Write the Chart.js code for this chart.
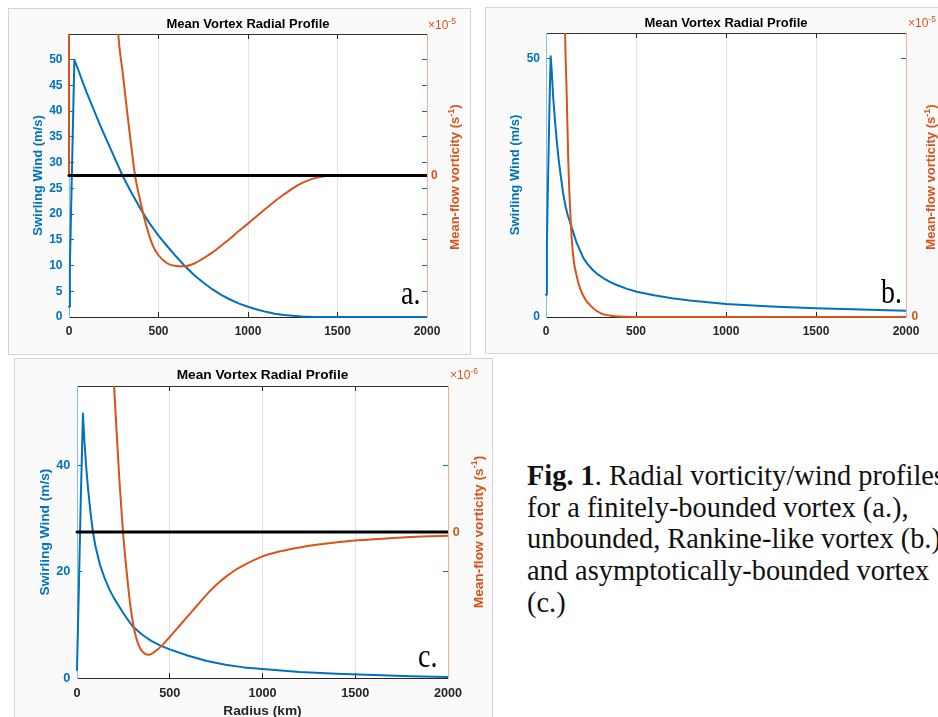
<!DOCTYPE html>
<html><head><meta charset="utf-8">
<script src="https://cdn.jsdelivr.net/npm/chart.js@4.4.1/dist/chart.umd.min.js"></script>
<style>
html,body{margin:0;padding:0;background:#fff;}
body{width:938px;height:717px;overflow:hidden;position:relative;font-family:'Liberation Sans',Arial,Helvetica,sans-serif;}
.box{position:absolute;box-sizing:border-box;border:1px solid #d4d4d4;background:#fafafa;}
canvas{position:absolute;}
.rt{position:absolute;transform:translate(-50%,-50%) rotate(-90deg);white-space:nowrap;font-weight:bold;font-size:13px;line-height:14px;color:#D95319;}
.rt sup{font-size:9px;line-height:0;}
.exp{position:absolute;white-space:nowrap;font-size:12px;color:#D95319;line-height:12px;}
.exp sup{font-size:8.5px;line-height:0;vertical-align:5px;}
.lab{position:absolute;font-family:'Liberation Serif','Times New Roman',serif;font-size:28px;line-height:28px;color:#000;white-space:nowrap;transform:scaleY(1.2);transform-origin:0 23.5px;}
.cap{position:absolute;left:527px;top:460px;font-family:'Liberation Serif','Times New Roman',serif;font-size:28.4px;line-height:31.7px;white-space:nowrap;color:#111;}
</style></head>
<body>
<div class="box" style="left:8px;top:8px;width:463px;height:347px"></div>
<div class="box" style="left:485px;top:7px;width:470px;height:347px"></div>
<div class="box" style="left:14px;top:358px;width:479px;height:380px"></div>
<canvas id="cA" width="463" height="347" style="left:8px;top:8px"></canvas>
<canvas id="cB" width="463" height="347" style="left:485px;top:7px"></canvas>
<canvas id="cC" width="479" height="372" style="left:14px;top:358px"></canvas>

<div class="rt" style="left:455px;top:177px">Mean-flow vorticity (s<sup>-1</sup>)</div>
<div class="rt" style="left:931px;top:177px">Mean-flow vorticity (s<sup>-1</sup>)</div>
<div class="rt" style="left:479px;top:532px;font-size:13.7px">Mean-flow vorticity (s<sup>-1</sup>)</div>

<div class="exp" style="left:428px;top:19px">×10<sup>-5</sup></div>
<div class="exp" style="left:908px;top:17px">×10<sup>-5</sup></div>
<div class="exp" style="left:450px;top:369px">×10<sup>-6</sup></div>

<div class="lab" style="left:401px;top:281px">a.</div>
<div class="lab" style="left:881px;top:280px">b.</div>
<div class="lab" style="left:418px;top:644px">c.</div>

<div class="cap"><b>Fig. 1</b>. Radial vorticity/wind profiles<br>for a finitely-bounded vortex (a.),<br>unbounded, Rankine-like vortex (b.),<br>and asymptotically-bounded vortex<br>(c.)</div>

<script>
// ---------- DATA ----------
const xTicks = [0, 500, 1000, 1500, 2000];
const windTicksA = [0, 5, 10, 15, 20, 25, 30, 35, 40, 45, 50];
const windTicksB = [0, 50];
const windTicksC = [0, 20, 40];
const vortTickLabels = [0];
const zeroLineR = [0, 2000];
const zeroLineV = [0, 0];

// Panel a: finitely-bounded vortex (vorticity in 1e-5 s^-1)
const radiusWindA = [0, 5, 10, 15, 20, 25, 30, 50, 75, 100, 125, 150, 175, 200, 250, 300, 350, 400, 450, 500, 550, 600, 650, 700, 750, 800, 850, 900, 950, 1000, 1050, 1100, 1150, 1200, 1250, 1300, 1350, 1400, 1450, 1500, 1750, 2000];
const windA = [2, 10, 18, 26, 34, 42, 50, 48.2, 45.8, 43.5, 41.4, 39.3, 37.2, 35.2, 31.3, 27.4, 24.1, 21.0, 18.2, 15.8, 13.7, 11.7, 9.8, 8.1, 6.7, 5.4, 4.3, 3.4, 2.6, 2.0, 1.45, 1.0, 0.65, 0.4, 0.23, 0.12, 0.05, 0.02, 0.005, 0, 0, 0];
const radiusVortA = [0, 2, 260, 275, 300, 322, 345, 369, 392, 415, 440, 470, 500, 550, 600, 640, 700, 750, 800, 850, 900, 950, 1000, 1050, 1100, 1150, 1200, 1250, 1300, 1350, 1400, 1450, 1500, 2000];
const vortA = [0, 60, 7.5, 5.5, 4.0, 2.65, 1.3, 0, -0.8, -1.5, -2.15, -2.75, -3.1, -3.42, -3.52, -3.53, -3.42, -3.22, -3.0, -2.73, -2.45, -2.15, -1.87, -1.57, -1.28, -1.0, -0.74, -0.5, -0.3, -0.15, -0.06, -0.01, 0, 0];

// Panel b: unbounded, Rankine-like vortex (vorticity in 1e-5 s^-1)
const radiusWindB = [0, 5, 10, 15, 20, 26, 32, 40, 50, 60, 70, 80, 96, 110, 120, 138, 155, 170, 190, 208, 230, 260, 290, 320, 360, 400, 450, 505, 600, 700, 800, 900, 1000, 1250, 1500, 1750, 2000];
const windB = [4.3, 14, 24, 33, 42, 50.5, 47.5, 42.5, 38, 34, 30.6, 27.8, 23.8, 21.2, 19.8, 17.9, 16.0, 14.4, 12.8, 11.4, 10.3, 9.1, 8.2, 7.5, 6.7, 6.1, 5.45, 4.9, 4.2, 3.65, 3.2, 2.85, 2.5, 2.05, 1.7, 1.45, 1.2];
const radiusVortB = [90, 100, 106, 115, 124, 138, 152, 170, 189, 215, 245, 280, 320, 370, 450, 550, 2000];
const vortB = [9, 7, 5.5, 4.3, 3.0, 1.8, 1.15, 0.8, 0.56, 0.36, 0.23, 0.12, 0.05, 0.02, 0.005, 0, 0];

// Panel c: asymptotically-bounded vortex (vorticity in 1e-6 s^-1)
const radiusWindC = [0, 10, 20, 32, 40, 50, 60, 75, 86, 100, 125, 150, 176, 200, 250, 298, 350, 400, 450, 500, 600, 700, 800, 900, 1000, 1200, 1400, 1600, 1800, 2000];
const windC = [1.5, 17, 33, 49.8, 44.6, 39.6, 35.5, 30.5, 27.5, 24.7, 21.2, 18.7, 16.6, 15.0, 12.2, 9.8, 8.2, 7.0, 6.1, 5.4, 4.2, 3.2, 2.5, 2.0, 1.7, 1.15, 0.8, 0.55, 0.35, 0.2];
const radiusVortC = [180, 190, 200, 215, 230, 248, 262, 275, 290, 305, 320, 340, 365, 390, 420, 455, 500, 550, 600, 650, 700, 750, 800, 850, 900, 1000, 1100, 1200, 1300, 1400, 1500, 1600, 1700, 1800, 1900, 2000];
const vortC = [9, 7, 5.5, 3.6, 1.8, 0, -1.1, -2.0, -2.9, -3.55, -4.0, -4.38, -4.58, -4.62, -4.5, -4.3, -3.95, -3.55, -3.15, -2.75, -2.35, -2.0, -1.7, -1.45, -1.25, -0.92, -0.72, -0.58, -0.47, -0.39, -0.32, -0.27, -0.23, -0.19, -0.16, -0.14];

// ---------- STYLE ----------
const BLUE = '#0072BD', ORANGE = '#D95319', DARK = '#262626';
Chart.defaults.font.family = "'Liberation Sans', Arial, Helvetica, sans-serif";

const areaBg = {
  id: 'areaBg',
  beforeDraw(chart) {
    const {ctx, chartArea: a} = chart;
    ctx.save(); ctx.fillStyle = '#ffffff';
    ctx.fillRect(a.left, a.top, a.right - a.left, a.bottom - a.top);
    ctx.restore();
  }
};

function pts(rs, vs) { return rs.map((r, i) => ({x: r, y: vs[i]})); }

function makePanel(id, d, L) {
  const fontT = {size: L.tick, weight: 'bold'};
  const fontL = {size: L.label, weight: 'bold'};
  const mirror = d.windTicks.filter(v => v > d.windMin && v < d.windMax)
    .map(v => d.vortMin + (v - d.windMin) / (d.windMax - d.windMin) * (d.vortMax - d.vortMin));
  const rTicks = Array.from(new Set(vortTickLabels.concat(mirror)));
  const datasets = [];
  if (d.zero) datasets.push({data: pts(zeroLineR, zeroLineV), yAxisID: 'y2', borderColor: '#000', borderWidth: 3, order: 1, tension: 0, cubicInterpolationMode: 'default'});
  datasets.push({data: pts(d.vortR, d.vort), yAxisID: 'y2', borderColor: ORANGE, borderWidth: 2, order: 2, cubicInterpolationMode: 'monotone'});
  datasets.push({data: pts(d.windR, d.wind), yAxisID: 'y', borderColor: BLUE, borderWidth: 2, order: 3, tension: 0, cubicInterpolationMode: 'default'});
  datasets.forEach(ds => { ds.xAxisID = 'x'; ds.pointRadius = 0; ds.fill = false; ds.clip = {left: 2, top: 0, right: 0, bottom: 2}; });

  const edge = v => v === xTicks[0] || v === xTicks[xTicks.length - 1];
  new Chart(document.getElementById(id), {
    type: 'line',
    data: {datasets},
    plugins: [areaBg],
    options: {
      responsive: false, animation: false, devicePixelRatio: 1,
      layout: {padding: 0},
      elements: {point: {radius: 0}, line: {borderCapStyle: 'round', borderJoinStyle: 'round'}},
      plugins: {
        legend: {display: false}, tooltip: {enabled: false},
        title: {display: true, text: 'Mean Vortex Radial Profile', color: '#000', fullSize: false,
          font: {size: L.label, weight: 'bold'}, padding: {top: L.titleTop, bottom: L.titleBottom}}
      },
      scales: {
        x: {
          type: 'linear', position: 'bottom', min: 0, max: 2000,
          afterBuildTicks: s => { s.ticks = xTicks.map(v => ({value: v})); },
          afterFit: s => { s.height = L.xH; },
          ticks: {color: DARK, font: fontT, padding: L.xPad, maxRotation: 0, autoSkip: false, callback: v => String(v)},
          grid: {color: c => (c.tick && edge(c.tick.value)) ? 'rgba(0,0,0,0)' : '#e4e4e4', lineWidth: 1, drawTicks: true, tickLength: -5, tickColor: DARK},
          border: {color: DARK, width: 1},
          title: L.xTitle ? {display: true, text: 'Radius (km)', color: DARK, font: fontL, padding: {top: 0, bottom: L.xTitlePad}} : {display: false}
        },
        xTop: {
          type: 'linear', position: 'top', min: 0, max: 2000,
          afterBuildTicks: s => { s.ticks = xTicks.map(v => ({value: v})); },
          afterFit: s => { s.height = 0; },
          ticks: {display: false},
          grid: {drawOnChartArea: false, drawTicks: true, tickLength: -5, tickColor: DARK},
          border: {color: '#333333', width: 1}
        },
        y: {
          type: 'linear', position: 'left', min: d.windMin, max: d.windMax,
          afterBuildTicks: s => { s.ticks = d.windTicks.map(v => ({value: v})); },
          afterFit: s => { s.width = L.leftW; },
          ticks: {color: BLUE, font: fontT, padding: L.yPad, callback: v => String(v)},
          grid: {drawOnChartArea: false, drawTicks: true, tickLength: -5, tickColor: BLUE},
          border: {color: '#86bde4', width: 1},
          title: {display: true, text: 'Swirling Wind (m/s)', color: BLUE, font: fontL, padding: {top: L.yTitlePad, bottom: 0}}
        },
        y2: {
          type: 'linear', position: 'right', min: d.vortMin, max: d.vortMax,
          afterBuildTicks: s => { s.ticks = rTicks.map(v => ({value: v})); },
          afterFit: s => { s.width = L.rightW; },
          ticks: {color: ORANGE, font: fontT, padding: L.rPad, callback: v => vortTickLabels.includes(v) ? String(v) : ''},
          grid: {drawOnChartArea: false, drawTicks: true, tickLength: -5, tickColor: c => (c.tick && vortTickLabels.includes(c.tick.value)) ? ORANGE : BLUE},
          border: {color: '#f0b295', width: 1}
        }
      }
    }
  });
}

makePanel('cA',
  {windR: radiusWindA, wind: windA, vortR: radiusVortA, vort: vortA, zero: true, windTicks: windTicksA, windMin: 0, windMax: 55, vortMin: -5.5, vortMax: 5.5},
  {tick: 12, label: 13, titleTop: 8.5, titleBottom: 1.9, leftW: 61, rightW: 44, xH: 38, xPad: 12.5, yPad: 11.5, rPad: 9, yTitlePad: 22.5, xTitle: false});
makePanel('cB',
  {windR: radiusWindB, wind: windB, vortR: radiusVortB, vort: vortB, zero: false, windTicks: windTicksB, windMin: 0, windMax: 55, vortMin: 0, vortMax: 5.5},
  {tick: 12, label: 13, titleTop: 8.5, titleBottom: 1.9, leftW: 61, rightW: 42, xH: 37, xPad: 12.5, yPad: 11, rPad: 10.5, yTitlePad: 22.2, xTitle: false});
makePanel('cC',
  {windR: radiusWindC, wind: windC, vortR: radiusVortC, vort: vortC, zero: true, windTicks: windTicksC, windMin: 0, windMax: 55, vortMin: -5.5, vortMax: 5.5},
  {tick: 12.7, label: 13.7, titleTop: 8.8, titleBottom: 2.76, leftW: 63, rightW: 45, xH: 52, xPad: 12.7, yPad: 11.6, rPad: 9.7, yTitlePad: 22.8, xTitle: true, xTitlePad: 10.8});
</script>
</body></html>
